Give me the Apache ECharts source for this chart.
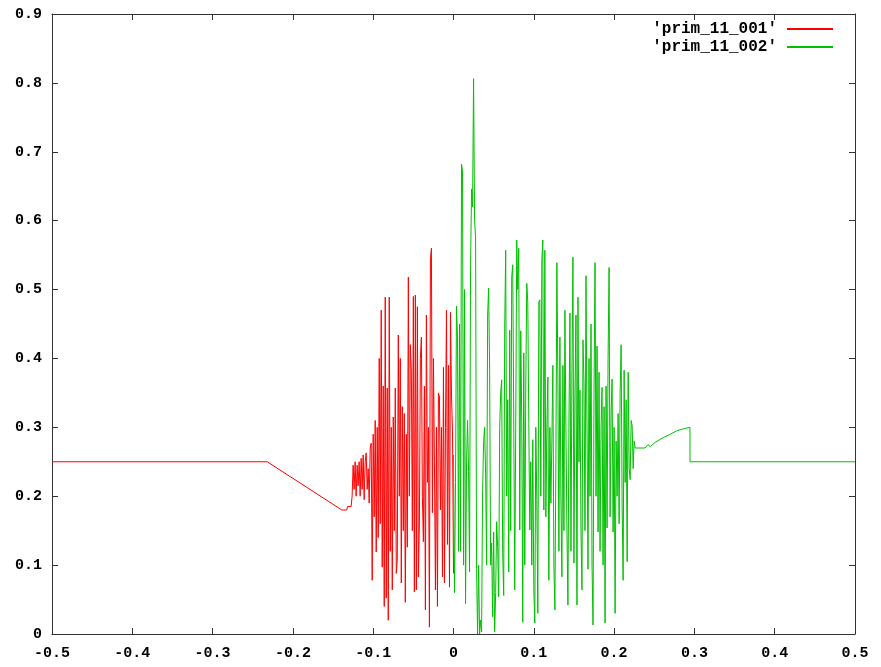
<!DOCTYPE html>
<html>
<head>
<meta charset="utf-8">
<script src="https://cdn.jsdelivr.net/npm/echarts@6/dist/echarts.min.js"></script>
<style>html,body{margin:0;padding:0;background:#fff;}#c{width:881px;height:667px;}</style>
</head>
<body>
<div id="c"></div>
<script>
// ---- data ----
var seriesNames = ["'prim_11_001'", "'prim_11_002'"];
var xTicks = [-0.5, -0.4, -0.3, -0.2, -0.1, 0, 0.1, 0.2, 0.3, 0.4, 0.5];
var yTicks = [0, 0.1, 0.2, 0.3, 0.4, 0.5, 0.6, 0.7, 0.8, 0.9];

var redRampX = [-0.5, -0.232, -0.139, -0.133, -0.132, -0.1275];
var redRampY = [0.25, 0.25, 0.18, 0.18, 0.185, 0.185];

var redNoiseX = [-0.12625, -0.125, -0.12375, -0.1225, -0.12125,
  -0.12, -0.11875, -0.1175, -0.11625, -0.115, -0.11375, -0.1125, -0.11125,
  -0.11, -0.10875, -0.1075, -0.10625, -0.105, -0.10375, -0.1025, -0.10125,
  -0.10, -0.09875, -0.0975, -0.09625, -0.095, -0.09375, -0.0925, -0.09125,
  -0.09, -0.08875, -0.0875, -0.08625, -0.085, -0.08375, -0.0825, -0.08125,
  -0.08, -0.07875, -0.0775, -0.07625, -0.075, -0.07375, -0.0725, -0.07125,
  -0.07, -0.06875, -0.0675, -0.06625, -0.065, -0.06375, -0.0625, -0.06125,
  -0.06, -0.05875, -0.0575, -0.05625, -0.055, -0.05375, -0.0525, -0.05125,
  -0.05, -0.04875, -0.0475, -0.04625, -0.045, -0.04375, -0.0425, -0.04125,
  -0.04, -0.03875, -0.0375, -0.03625, -0.035, -0.03375, -0.0325, -0.03125,
  -0.03, -0.02875, -0.0275, -0.02625, -0.025, -0.02375, -0.0225, -0.02125,
  -0.02, -0.01875, -0.0175, -0.01625, -0.015, -0.01375, -0.0125, -0.01125,
  -0.01, -0.00875, -0.0075, -0.00625, -0.005, -0.00375, -0.0025, -0.00125,
  0];
var redNoiseY = [
  0.20,0.245,0.21,0.25,0.20,0.245,0.215,0.25,0.20,0.255,
  0.21,0.26,0.195,0.25,0.263,0.21,0.24,0.19,0.27,0.277,
  0.078,0.29,0.17,0.31,0.119,0.30,0.14,0.40,0.16,0.47,
  0.097,0.36,0.04,0.489,0.052,0.357,0.02,0.489,0.12,0.30,
  0.064,0.315,0.15,0.357,0.088,0.107,0.434,0.20,0.40,0.074,
  0.33,0.15,0.32,0.046,0.29,0.126,0.518,0.20,0.42,0.383,
  0.15,0.49,0.061,0.492,0.064,0.475,0.083,0.158,0.40,0.431,
  0.20,0.134,0.36,0.035,0.463,0.22,0.30,0.01,0.543,0.56,
  0.176,0.40,0.25,0.064,0.30,0.04,0.35,0.344,0.18,0.30,
  0.083,0.387,0.074,0.30,0.47,0.13,0.39,0.068,0.467,0.347,
  0.295,0.088];

var greenNoiseX = [
  0, 0.00125, 0.0025, 0.00375, 0.005, 0.00625, 0.0075, 0.00875,
  0.01, 0.01125, 0.0125, 0.01375, 0.015, 0.01625, 0.0175, 0.01875,
  0.02, 0.02125, 0.0225, 0.02375, 0.025, 0.02625, 0.0275, 0.02875,
  0.03, 0.03125, 0.0325, 0.03375, 0.035, 0.03625, 0.0375, 0.03875,
  0.04, 0.04125, 0.0425, 0.04375, 0.045, 0.04625, 0.0475, 0.04875,
  0.05, 0.05125, 0.0525, 0.05375, 0.055, 0.05625, 0.0575, 0.05875,
  0.06, 0.06125, 0.0625, 0.06375, 0.065, 0.06625, 0.0675, 0.06875,
  0.07, 0.07125, 0.0725, 0.07375, 0.075, 0.07625, 0.0775, 0.07875,
  0.08, 0.08125, 0.0825, 0.08375, 0.085, 0.08625, 0.0875, 0.08875,
  0.09, 0.09125, 0.0925, 0.09375, 0.095, 0.09625, 0.0975, 0.09875,
  0.10, 0.10125, 0.1025, 0.10375, 0.105, 0.10625, 0.1075, 0.10875,
  0.11, 0.11125, 0.1125, 0.11375, 0.115, 0.11625, 0.1175, 0.11875,
  0.12, 0.12125, 0.1225, 0.12375, 0.125, 0.12625, 0.1275, 0.12875,
  0.13, 0.13125, 0.1325, 0.13375, 0.135, 0.13625, 0.1375, 0.13875,
  0.14, 0.14125, 0.1425, 0.14375, 0.145, 0.14625, 0.1475, 0.14875,
  0.15, 0.15125, 0.1525, 0.15375, 0.155, 0.15625, 0.1575, 0.15875,
  0.16, 0.16125, 0.1625, 0.16375, 0.165, 0.16625, 0.1675, 0.16875,
  0.17, 0.17125, 0.1725, 0.17375, 0.175, 0.17625, 0.1775, 0.17875,
  0.18, 0.18125, 0.1825, 0.18375, 0.185, 0.18625, 0.1875, 0.18875,
  0.19, 0.19125, 0.1925, 0.19375, 0.195, 0.19625, 0.1975, 0.19875,
  0.20, 0.20125, 0.2025, 0.20375, 0.205, 0.20625, 0.2075, 0.20875,
  0.21, 0.21125, 0.2125, 0.21375, 0.215, 0.21625, 0.2175, 0.21875,
  0.22, 0.22125, 0.2225, 0.22375, 0.225, 0.22625];
var greenNoiseY = [
  0.26,0.06,0.22,0.476,0.43,0.12,0.45,0.12,0.682,0.672,
  0.10,0.50,0.044,0.25,0.31,0.236,0.09,0.536,0.646,0.62,
  0.806,0.60,0.575,0.095,0.0,0.10,0.0,0.02,0.003,0.206,
  0.279,0.30,0.232,0.10,0.463,0.502,0.383,0.10,0.132,0.025,
  0.148,0.003,0.06,0.163,0.126,0.054,0.30,0.35,0.369,0.118,
  0.056,0.444,0.557,0.20,0.34,0.09,0.441,0.15,0.518,0.536,
  0.318,0.064,0.30,0.572,0.50,0.56,0.151,0.44,0.308,0.017,
  0.408,0.10,0.36,0.509,0.482,0.306,0.151,0.25,0.10,0.282,
  0.064,0.016,0.30,0.195,0.03,0.482,0.485,0.20,0.543,0.572,
  0.18,0.557,0.17,0.30,0.373,0.078,0.30,0.19,0.28,0.39,
  0.10,0.035,0.25,0.539,0.369,0.12,0.431,0.20,0.083,0.39,
  0.15,0.47,0.30,0.151,0.042,0.30,0.466,0.12,0.383,0.547,
  0.103,0.35,0.463,0.042,0.489,0.25,0.354,0.15,0.064,0.427,
  0.364,0.15,0.52,0.30,0.094,0.40,0.20,0.45,0.10,0.013,
  0.35,0.539,0.20,0.418,0.148,0.38,0.12,0.30,0.358,0.10,
  0.33,0.016,0.36,0.154,0.40,0.532,0.17,0.32,0.37,0.148,
  0.30,0.03,0.28,0.20,0.32,0.16,0.35,0.42,0.186,0.078,
  0.383,0.22,0.34,0.105,0.38,0.24,0.224,0.31,0.302,0.24,
  0.28,0.27];

var greenTailX = [0.2385, 0.2422, 0.245, 0.251, 0.261, 0.270, 0.278, 0.287, 0.2945, 0.2945, 0.5];
var greenTailY = [0.27, 0.275, 0.272, 0.278, 0.285, 0.29, 0.295, 0.298, 0.30, 0.25, 0.25];

// ---- build ----
function zip(xs, ys) { var out = []; for (var i = 0; i < xs.length; i++) out.push([xs[i], ys[i]]); return out; }
var redData = zip(redRampX, redRampY).concat(zip(redNoiseX, redNoiseY));
var greenData = zip(greenNoiseX, greenNoiseY).concat(zip(greenTailX, greenTailY));

var FONT = '"Liberation Mono", "DejaVu Sans Mono", monospace';
var frameColor = '#333';

function fmt(v) { var r = Math.round(v * 10) / 10; return r === 0 ? '0' : String(r); }

function xAxisCfg(pos, showLabel) {
  return {
    type: 'value', position: pos, min: xTicks[0], max: xTicks[xTicks.length - 1],
    interval: 0.1,
    axisLine: { show: true, onZero: false, lineStyle: { color: frameColor, width: 1 } },
    axisTick: { show: true, inside: true, length: 6, lineStyle: { color: frameColor } },
    splitLine: { show: false },
    axisLabel: { show: showLabel, formatter: fmt, margin: 12, color: '#000',
      fontFamily: FONT, fontWeight: 'bold', fontSize: 15 }
  };
}
function yAxisCfg(pos, showLabel) {
  return {
    type: 'value', position: pos, min: yTicks[0], max: yTicks[yTicks.length - 1],
    interval: 0.1,
    axisLine: { show: true, onZero: false, lineStyle: { color: frameColor, width: 1 } },
    axisTick: { show: true, inside: true, length: 6, lineStyle: { color: frameColor } },
    splitLine: { show: false },
    axisLabel: { show: showLabel, formatter: fmt, margin: 10, color: '#000',
      fontFamily: FONT, fontWeight: 'bold', fontSize: 15 }
  };
}

var chart = echarts.init(document.getElementById('c'), null, { renderer: 'canvas' });
chart.setOption({
  animation: false,
  backgroundColor: '#fff',
  grid: { left: 52, right: 26, top: 14, bottom: 33, containLabel: false },
  legend: {
    orient: 'vertical', right: 43, top: 16, align: 'right',
    icon: 'rect', itemWidth: 46, itemHeight: 2, itemGap: 2,
    textStyle: { fontFamily: FONT, fontWeight: 'bold', fontSize: 16, color: '#000', padding: [0, 5, 0, 0] },
    data: seriesNames
  },
  xAxis: [xAxisCfg('bottom', true), xAxisCfg('top', false)],
  yAxis: [yAxisCfg('left', true), yAxisCfg('right', false)],
  series: [
    { name: seriesNames[0], type: 'line', xAxisIndex: 0, yAxisIndex: 0, data: redData,
      symbol: 'none', color: '#ff0000', lineStyle: { color: '#ff0000', width: 1 } },
    { name: seriesNames[1], type: 'line', xAxisIndex: 0, yAxisIndex: 0, data: greenData,
      symbol: 'none', color: '#00c000', lineStyle: { color: '#00c000', width: 1 } }
  ]
});
</script>
</body>
</html>
